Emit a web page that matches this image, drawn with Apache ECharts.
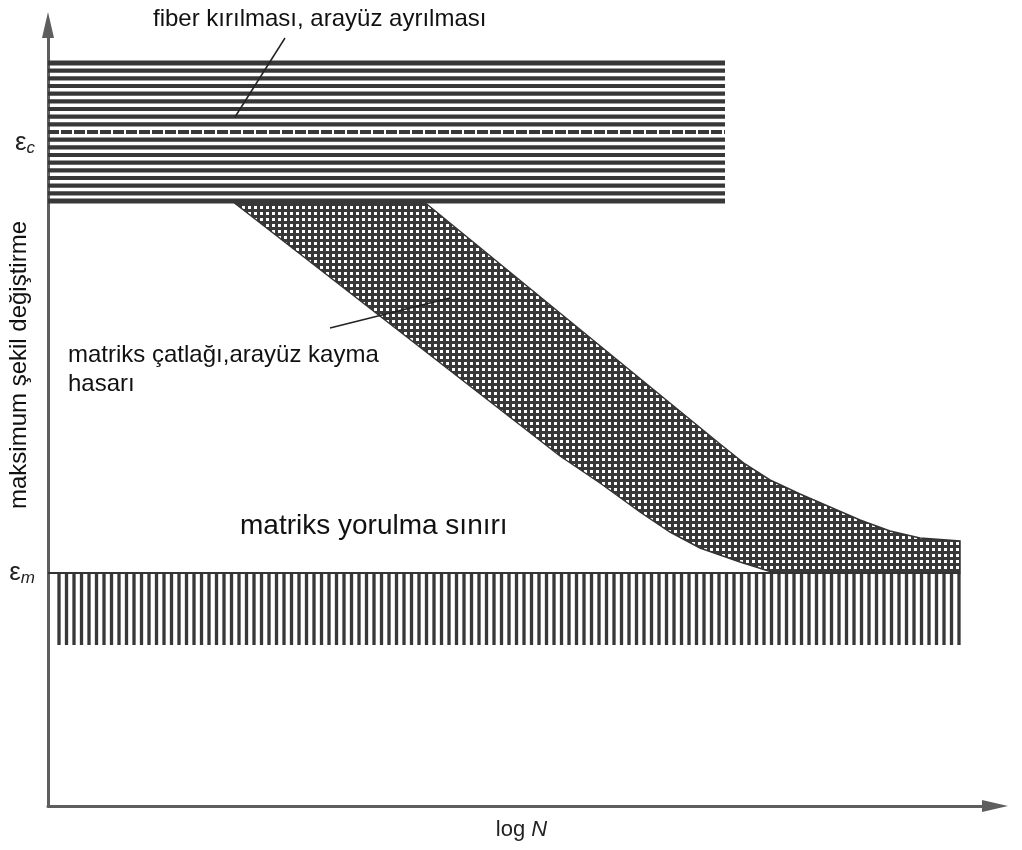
<!DOCTYPE html>
<html><head><meta charset="utf-8">
<script src="https://cdn.jsdelivr.net/npm/echarts@6/dist/echarts.min.js"></script>
<style>html,body{margin:0;padding:0;background:#fff}#c{width:1022px;height:850px}</style>
</head><body><div id="c"></div><script>
// Schematic axes (arbitrary units): x = log N, y = maximum strain
const xAxisMax = 947;
const yAxisMax = 781;
const epsC = 663;
const epsM = 233;
const yTickValues = [epsC, epsM];
const yTickLabels = ['{e|ε}{s|c}', '{e|ε}{s|m}'];
// fiber breakage / debonding band
const fiberBandX = [0, 677];
const fiberBandY = [605, 743];
// matrix fatigue limit band
const matrixBandX = [0, 912];
const matrixBandY = [161, 233];
// matrix cracking / interfacial shear band (upper-right boundary, lower-left boundary)
const crackUpperX = [375, 672, 697, 722, 752, 782, 812, 842, 872, 912, 912];
const crackUpperY = [605, 362, 342, 326, 312, 299, 286, 275, 268, 265, 233];
const crackLowerX = [184, 512, 552, 592, 622, 652, 692, 727];
const crackLowerY = [605, 350, 323, 294, 274, 258, 244, 233];
// leader lines
const leaderFiberX = [237, 187];
const leaderFiberY = [768, 689];
const leaderCrackX = [402, 282];
const leaderCrackY = [508, 478];

const FONT = '"Liberation Sans", Arial, Helvetica, sans-serif';
const INK = '#383838';

// grid pattern for the cross-hatched band
const pc = document.createElement('canvas');
pc.width = 6; pc.height = 6;
const g = pc.getContext('2d');
g.fillStyle = '#383838'; g.fillRect(0, 0, 6, 6);
g.fillStyle = '#fff'; g.fillRect(2, 2, 3, 3);

function bandCorners(api) {
  const p0 = api.coord([api.value(0), api.value(2)]);
  const p1 = api.coord([api.value(1), api.value(3)]);
  return {left: p0[0], right: p1[0], bottom: p0[1], top: p1[1]};
}

function hatchH(params, api) {
  const b = bandCorners(api);
  const n = 19, children = [];
  for (let i = 0; i < n; i++) {
    const y = b.top + (b.bottom - b.top) * i / (n - 1);
    const st = {stroke: INK, lineWidth: (i === 0 || i === n - 1) ? 4.8 : 4.2};
    if (i === 9) st.lineDash = [11, 2];
    children.push({type: 'line', shape: {x1: b.left, y1: y, x2: b.right, y2: y}, style: st});
  }
  return {type: 'group', children};
}

function hatchV(params, api) {
  const b = bandCorners(api);
  const children = [];
  for (let x = b.right - 1; x >= b.left + 4; x -= 7.5) {
    children.push({type: 'line', shape: {x1: x, y1: b.top, x2: x, y2: b.bottom}, style: {stroke: INK, lineWidth: 3.3}});
  }
  children.push({type: 'line', shape: {x1: b.left, y1: b.top, x2: b.right, y2: b.top}, style: {stroke: '#333', lineWidth: 2}});
  return {type: 'group', children};
}

function crossHatch(params, api) {
  const pts = [];
  for (let i = 0; i < crackUpperX.length; i++) pts.push(api.coord([crackUpperX[i], crackUpperY[i]]));
  for (let i = crackLowerX.length - 1; i >= 0; i--) pts.push(api.coord([crackLowerX[i], crackLowerY[i]]));
  return {type: 'polygon', shape: {points: pts},
    style: {fill: {image: pc, repeat: 'repeat'}, stroke: '#333', lineWidth: 1.5}};
}

const chart = echarts.init(document.getElementById('c'), null, {renderer: 'canvas'});
chart.setOption({
  backgroundColor: '#fff',
  animation: false,
  grid: {left: 48, right: 27, top: 25, bottom: 44, containLabel: false, outerBoundsMode: 'none'},
  xAxis: {
    type: 'value', min: 0, max: xAxisMax,
    axisLine: {show: true, onZero: false, symbol: ['none', 'triangle'], symbolSize: [12, 26],
      lineStyle: {color: '#5e5e5e', width: 3}},
    axisTick: {show: false}, axisLabel: {show: false}, splitLine: {show: false},
    name: '{t|log }{i|N}', nameLocation: 'middle', nameGap: 13,
    nameTextStyle: {rich: {
      t: {fontSize: 22, fontFamily: FONT, color: '#222'},
      i: {fontSize: 22, fontFamily: FONT, fontStyle: 'italic', color: '#222'}
    }}
  },
  yAxis: {
    type: 'value', min: 0, max: yAxisMax,
    axisLine: {show: true, onZero: false, symbol: ['none', 'triangle'], symbolSize: [12, 26],
      lineStyle: {color: '#5e5e5e', width: 3}},
    axisTick: {show: false}, splitLine: {show: false},
    axisLabel: {
      show: true, customValues: yTickValues, margin: 13,
      formatter: function (v) { return yTickLabels[yTickValues.indexOf(v)] || ''; },
      rich: {
        e: {fontSize: 26, fontFamily: FONT, color: '#222'},
        s: {fontSize: 17, fontFamily: FONT, fontStyle: 'italic', color: '#222', padding: [10, 0, 0, 0]}
      }
    }
  },
  series: [
    {type: 'custom', renderItem: crossHatch, data: [[0, 0]], silent: true, clip: false, z: 2},
    {type: 'custom', renderItem: hatchH, silent: true, clip: false, z: 3,
      data: [[fiberBandX[0], fiberBandX[1], fiberBandY[0], fiberBandY[1]]]},
    {type: 'custom', renderItem: hatchV, silent: true, clip: false, z: 3,
      data: [[matrixBandX[0], matrixBandX[1], matrixBandY[0], matrixBandY[1]]]},
    {type: 'line', silent: true, symbol: 'none', z: 4, lineStyle: {color: '#222', width: 1.5},
      data: leaderFiberX.map((x, i) => [x, leaderFiberY[i]])},
    {type: 'line', silent: true, symbol: 'none', z: 4, lineStyle: {color: '#222', width: 1.5},
      data: leaderCrackX.map((x, i) => [x, leaderCrackY[i]])}
  ],
  graphic: [
    {type: 'text', x: 153, y: 19, z: 10, style: {text: 'fiber kırılması, arayüz ayrılması',
      fontSize: 24, fontFamily: FONT, fill: '#111', verticalAlign: 'middle'}},
    {type: 'text', x: 68, y: 355, z: 10, style: {text: 'matriks çatlağı,arayüz kayma',
      fontSize: 24, fontFamily: FONT, fill: '#111', verticalAlign: 'middle'}},
    {type: 'text', x: 68, y: 384, z: 10, style: {text: 'hasarı',
      fontSize: 24, fontFamily: FONT, fill: '#111', verticalAlign: 'middle'}},
    {type: 'text', x: 240, y: 526, z: 10, style: {text: 'matriks yorulma sınırı',
      fontSize: 28, fontFamily: FONT, fill: '#111', verticalAlign: 'middle'}},
    {type: 'text', x: 19, y: 365, rotation: Math.PI / 2, z: 10, style: {text: 'maksimum şekil değiştirme',
      fontSize: 24, fontFamily: FONT, fill: '#111', align: 'center', verticalAlign: 'middle'}}
  ]
});
</script></body></html>
